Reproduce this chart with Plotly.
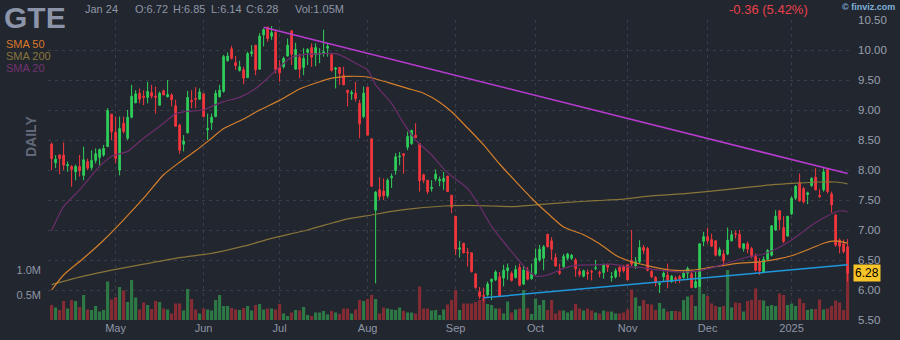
import plotly.graph_objects as go
import pandas as pd

# ---------------- data ----------------
holidays = ["2024-05-27", "2024-06-19", "2024-07-04", "2024-09-02", "2024-11-28",
            "2024-12-25", "2025-01-01", "2025-01-09", "2025-01-20"]

open_ = [
    8.43, 8.12, 8.25, 8.25, 8.07, 8.06, 7.97, 8.06, 7.91, 8.14,
    8.04, 8.16, 8.21, 8.25, 8.39, 8.93, 8.63, 8.00, 8.78, 8.53,
    8.88, 9.12, 9.28, 9.23, 9.21, 9.29, 9.23, 9.08, 9.32, 9.22,
    9.25, 9.07, 8.75, 8.43, 8.62, 9.16, 9.19, 9.18, 9.27, 8.67,
    8.79, 8.89, 9.22, 9.31, 9.82, 10.02, 9.79, 9.66, 9.67, 9.54,
    9.94, 10.08, 9.68, 10.25, 10.38, 10.23, 10.29, 9.71, 9.72, 9.90,
    10.32, 9.68, 9.88, 9.71, 9.96, 10.04, 9.92, 9.93, 9.94, 10.03,
    9.92, 9.68, 9.71, 9.58, 9.33, 9.27, 9.28, 9.11, 8.89, 9.38,
    8.52, 7.33, 7.67, 7.65, 7.57, 7.87, 7.99, 8.22, 8.27, 8.38,
    8.44, 8.58, 8.44, 7.92, 7.83, 7.69, 7.85, 7.82, 7.81, 7.90,
    7.58, 7.23, 6.68, 6.78, 6.63, 6.62, 6.27, 5.97, 5.91, 5.92,
    6.14, 6.17, 6.22, 6.20, 6.32, 6.28, 6.21, 6.38, 6.10, 6.33,
    6.19, 6.27, 6.50, 6.53, 6.93, 6.82, 6.54, 6.31, 6.39, 6.53,
    6.53, 6.50, 6.31, 6.23, 6.29, 6.31, 6.36, 6.29, 6.29, 6.42,
    6.21, 6.22, 6.38, 6.39, 6.42, 6.49, 6.40, 6.47, 6.71, 6.69,
    6.31, 6.21, 6.09, 6.22, 6.25, 6.14, 6.20, 6.22, 6.21, 6.28,
    6.27, 6.04, 6.06, 6.81, 6.89, 6.84, 6.82, 6.58, 6.60, 6.60,
    6.82, 6.94, 6.93, 6.69, 6.77, 6.69, 6.56, 6.46, 6.29, 6.51,
    6.58, 7.00, 7.32, 7.04, 6.90, 7.27, 7.53, 7.79, 7.69, 7.59,
    7.74, 7.88, 7.58, 7.67, 8.01, 7.60, 7.25, 6.83, 6.77, 6.72,
]
high = [
    8.46, 8.25, 8.26, 8.46, 8.14, 8.08, 8.09, 8.25, 8.39, 8.19,
    8.33, 8.36, 8.36, 8.42, 9.03, 8.93, 8.89, 8.89, 8.89, 9.00,
    9.42, 9.33, 9.36, 9.33, 9.47, 9.42, 9.39, 9.31, 9.34, 9.50,
    9.28, 9.17, 8.77, 8.58, 9.32, 9.33, 9.38, 9.36, 9.28, 8.94,
    8.94, 9.33, 9.42, 9.92, 9.96, 10.07, 9.90, 9.82, 9.72, 9.97,
    10.08, 10.08, 10.28, 10.36, 10.39, 10.40, 10.33, 9.83, 9.89, 10.19,
    10.33, 10.12, 9.94, 10.03, 10.03, 10.11, 10.11, 10.03, 10.34, 10.11,
    9.94, 9.72, 9.71, 9.72, 9.33, 9.33, 9.47, 9.17, 9.39, 9.39,
    8.52, 7.65, 7.88, 7.86, 7.86, 7.94, 8.28, 8.30, 8.28, 8.64,
    8.67, 8.78, 8.44, 7.94, 7.83, 7.83, 8.01, 7.89, 7.97, 7.90,
    7.58, 7.23, 6.82, 6.78, 6.70, 6.62, 6.27, 6.05, 6.04, 6.14,
    6.19, 6.33, 6.30, 6.42, 6.44, 6.31, 6.41, 6.44, 6.40, 6.38,
    6.44, 6.69, 6.75, 6.75, 6.93, 6.88, 6.61, 6.44, 6.60, 6.62,
    6.60, 6.53, 6.36, 6.34, 6.34, 6.34, 6.50, 6.32, 6.44, 6.44,
    6.30, 6.36, 6.39, 6.42, 6.42, 7.00, 6.55, 6.83, 6.75, 6.72,
    6.34, 6.23, 6.13, 6.31, 6.44, 6.25, 6.23, 6.25, 6.33, 6.39,
    6.31, 6.31, 6.78, 6.97, 7.04, 6.94, 6.83, 6.71, 6.67, 7.04,
    6.99, 6.99, 7.00, 6.78, 6.81, 6.72, 6.61, 6.53, 6.56, 6.68,
    7.08, 7.33, 7.33, 7.23, 7.23, 7.56, 7.75, 7.94, 7.72, 7.64,
    7.88, 8.03, 7.68, 8.03, 8.03, 7.64, 7.27, 6.86, 6.84, 6.85,
]
low = [
    8.00, 8.03, 7.93, 8.00, 7.97, 7.72, 7.83, 7.89, 7.83, 8.00,
    8.00, 8.11, 8.08, 8.22, 8.39, 8.50, 8.11, 7.91, 8.61, 8.50,
    8.86, 9.11, 9.11, 9.08, 9.11, 9.19, 8.94, 9.08, 9.25, 9.21,
    9.06, 8.72, 8.27, 8.31, 8.61, 9.03, 9.03, 9.17, 8.88, 8.50,
    8.67, 8.88, 9.21, 9.29, 9.81, 9.84, 9.67, 9.64, 9.43, 9.53,
    9.89, 9.58, 9.67, 10.06, 10.14, 10.17, 9.61, 9.47, 9.69, 9.89,
    9.75, 9.67, 9.53, 9.58, 9.75, 9.72, 9.73, 9.78, 9.89, 9.89,
    9.64, 9.36, 9.42, 9.42, 9.06, 9.17, 9.14, 8.53, 8.86, 8.58,
    7.72, 6.11, 7.50, 7.50, 7.53, 7.70, 7.92, 8.08, 7.94, 8.33,
    8.42, 8.54, 7.64, 7.78, 7.60, 7.64, 7.81, 7.73, 7.67, 7.64,
    7.28, 6.58, 6.54, 6.61, 6.39, 6.29, 6.02, 5.85, 5.81, 5.89,
    5.83, 6.15, 5.89, 6.06, 6.17, 6.14, 6.19, 6.06, 6.08, 6.16,
    6.17, 6.25, 6.47, 6.33, 6.71, 6.50, 6.39, 6.25, 6.36, 6.50,
    6.50, 6.22, 6.22, 6.21, 6.17, 6.16, 6.33, 6.21, 6.19, 6.30,
    6.14, 6.19, 6.22, 6.29, 6.16, 6.40, 6.35, 6.44, 6.60, 6.31,
    6.20, 6.06, 5.95, 6.14, 6.03, 6.12, 6.11, 6.11, 6.19, 6.19,
    6.03, 6.03, 6.05, 6.73, 6.77, 6.72, 6.56, 6.56, 6.39, 6.58,
    6.81, 6.86, 6.69, 6.64, 6.61, 6.53, 6.31, 6.25, 6.28, 6.50,
    6.56, 6.99, 7.00, 6.78, 6.89, 7.25, 7.50, 7.47, 7.44, 7.43,
    7.72, 7.66, 7.53, 7.64, 7.61, 7.29, 6.72, 6.61, 6.61, 6.14,
]
close = [
    8.19, 8.18, 8.19, 8.08, 8.09, 8.01, 8.06, 7.99, 8.17, 8.03,
    8.16, 8.27, 8.34, 8.36, 8.99, 8.64, 8.19, 8.69, 8.64, 8.88,
    9.23, 9.27, 9.18, 9.21, 9.31, 9.23, 9.21, 9.28, 9.25, 9.26,
    9.17, 8.73, 8.33, 8.48, 9.21, 9.14, 9.18, 9.30, 8.89, 8.69,
    8.88, 9.28, 9.33, 9.89, 9.90, 9.86, 9.74, 9.72, 9.53, 9.94,
    9.97, 9.67, 10.23, 10.34, 10.19, 10.29, 9.67, 9.62, 9.86, 10.08,
    9.93, 10.01, 9.68, 9.86, 10.01, 9.88, 10.04, 9.95, 9.97, 10.06,
    9.66, 9.70, 9.61, 9.42, 9.29, 9.29, 9.19, 8.77, 9.28, 8.58,
    7.73, 7.63, 7.56, 7.57, 7.83, 7.89, 8.22, 8.23, 8.24, 8.56,
    8.66, 8.54, 7.82, 7.83, 7.64, 7.71, 7.93, 7.84, 7.86, 7.64,
    7.38, 6.68, 6.70, 6.62, 6.62, 6.31, 6.04, 5.89, 5.89, 6.10,
    6.18, 6.30, 5.90, 6.33, 6.37, 6.16, 6.34, 6.08, 6.33, 6.18,
    6.27, 6.53, 6.68, 6.72, 6.72, 6.68, 6.40, 6.28, 6.56, 6.60,
    6.58, 6.35, 6.26, 6.32, 6.27, 6.30, 6.37, 6.28, 6.42, 6.38,
    6.22, 6.32, 6.31, 6.32, 6.17, 6.43, 6.47, 6.71, 6.66, 6.33,
    6.22, 6.12, 6.11, 6.28, 6.16, 6.23, 6.18, 6.19, 6.28, 6.36,
    6.04, 6.14, 6.77, 6.89, 6.82, 6.73, 6.58, 6.67, 6.49, 6.83,
    6.92, 6.93, 6.71, 6.77, 6.68, 6.56, 6.33, 6.32, 6.51, 6.66,
    7.07, 7.23, 7.17, 6.81, 7.23, 7.53, 7.73, 7.49, 7.47, 7.62,
    7.86, 7.67, 7.56, 7.97, 7.64, 7.42, 6.75, 6.73, 6.64, 6.28,
]
volume_m = [
    0.30, 0.25, 0.20, 0.38, 0.23, 0.40, 0.38, 0.26, 0.50, 0.21,
    0.20, 0.28, 0.17, 0.20, 0.77, 0.41, 0.46, 0.66, 0.59, 0.36,
    0.80, 0.45, 0.21, 0.35, 0.30, 0.22, 0.38, 0.36, 0.23, 0.21,
    0.13, 0.33, 0.33, 0.19, 0.62, 0.42, 0.21, 0.13, 0.23, 0.21,
    0.19, 0.40, 0.50, 0.28, 0.28, 0.24, 0.21, 0.20, 0.24, 0.28,
    0.19, 0.30, 0.32, 0.21, 0.23, 0.23, 0.21, 0.32, 0.13, 0.08,
    0.15, 0.20, 0.19, 0.26, 0.10, 0.08, 0.15, 0.15, 0.18, 0.11,
    0.18, 0.15, 0.12, 0.23, 0.23, 0.13, 0.21, 0.40, 0.38, 0.42,
    0.50, 0.42, 0.13, 0.25, 0.23, 0.21, 0.20, 0.25, 0.18, 0.15,
    0.15, 0.13, 0.67, 0.23, 0.23, 0.19, 0.20, 0.10, 0.21, 0.31,
    0.40, 0.60, 0.20, 0.33, 0.33, 0.33, 0.36, 0.40, 0.44, 0.32,
    0.30, 0.23, 0.23, 0.13, 0.37, 0.15, 0.21, 0.23, 0.60, 0.23,
    0.12, 0.43, 0.30, 0.40, 0.20, 0.40, 0.13, 0.19, 0.19, 0.15,
    0.19, 0.32, 0.23, 0.19, 0.23, 0.19, 0.15, 0.13, 0.19, 0.17,
    0.17, 0.13, 0.13, 0.15, 0.21, 0.61, 0.45, 0.28, 0.40, 0.32,
    0.31, 0.20, 0.34, 0.23, 0.17, 0.18, 0.18, 0.17, 0.40, 0.47,
    0.50, 0.28, 1.00, 0.52, 0.48, 0.33, 0.28, 0.26, 0.28, 1.00,
    0.25, 0.35, 0.34, 0.17, 0.38, 0.40, 0.63, 0.40, 0.39, 0.28,
    0.30, 0.28, 0.53, 0.50, 0.30, 0.33, 0.28, 0.43, 0.34, 0.20,
    0.22, 0.22, 0.41, 0.21, 0.23, 0.28, 0.39, 0.35, 0.20, 1.05,
]

# moving averages (trading-day index, price)
sma20_x = [0, 3, 7, 12, 15, 19, 23, 28, 31, 33, 38, 40, 43, 47, 51, 54, 57, 60, 64, 68,
           71, 73, 76, 79, 81, 85, 88, 91, 95, 98, 100, 104, 107, 110, 113, 116, 119, 121, 124, 128,
           131, 136, 140, 144, 148, 152, 157, 161, 165, 169, 174, 178, 181, 184, 187, 190, 193, 196, 198, 199]
sma20_y = [6.99, 7.39, 7.67, 8.06, 8.23, 8.31, 8.53, 8.78, 8.94, 8.97, 9.00, 9.06, 9.14, 9.21, 9.36, 9.53, 9.72, 9.88, 9.93, 9.94,
           9.94, 9.89, 9.78, 9.67, 9.42, 9.11, 8.78, 8.50, 8.25, 8.02, 7.90, 7.69, 7.40, 7.06, 6.80, 6.56, 6.33, 6.23, 6.25, 6.36,
           6.41, 6.42, 6.43, 6.39, 6.37, 6.33, 6.30, 6.31, 6.37, 6.45, 6.55, 6.60, 6.68, 6.79, 6.93, 7.08, 7.20, 7.30, 7.32, 7.30]
sma50_x = [0, 3, 8, 13, 18, 23, 28, 32, 36, 40, 43, 48, 52, 57, 62, 67, 70, 74, 79, 84,
           89, 93, 97, 100, 104, 108, 112, 116, 120, 124, 128, 133, 137, 141, 145, 150, 155, 160, 165, 171,
           177, 181, 185, 189, 193, 196, 199]
sma50_y = [6.00, 6.25, 6.53, 6.83, 7.17, 7.53, 7.92, 8.13, 8.32, 8.53, 8.69, 8.85, 9.00, 9.16, 9.35, 9.47, 9.53, 9.56, 9.55, 9.46,
           9.36, 9.28, 9.13, 8.97, 8.70, 8.42, 8.10, 7.81, 7.53, 7.28, 7.05, 6.92, 6.77, 6.58, 6.47, 6.39, 6.33, 6.33, 6.38, 6.44,
           6.47, 6.51, 6.57, 6.67, 6.78, 6.82, 6.78]
sma200_x = [0, 8, 15, 23, 32, 40, 48, 55, 64, 73, 80, 85, 91, 98, 104, 110, 115, 121, 129, 136,
            142, 150, 159, 171, 181, 186, 192, 196, 199]
sma200_y = [6.09, 6.23, 6.33, 6.43, 6.54, 6.61, 6.73, 6.86, 7.00, 7.17, 7.25, 7.31, 7.36, 7.40, 7.41, 7.40, 7.39, 7.42, 7.46, 7.49,
            7.51, 7.57, 7.61, 7.69, 7.76, 7.78, 7.80, 7.80, 7.77]

# trendlines drawn on the chart (trading-day index, price)
resist_x = [53, 199]
resist_y = [10.38, 7.94]
support_x = [108, 199]
support_y = [5.87, 6.42]

ticker = "GTE"
last_date = "Jan 24"
header_vals = ["O:6.72", "H:6.85", "L:6.14", "C:6.28"]
vol_text = "Vol:1.05M"
change_text = "-0.36 (5.42%)"
last_price = 6.28

price_ticks = [5.5, 6.0, 6.5, 7.0, 7.5, 8.0, 8.5, 9.0, 9.5, 10.0, 10.5]
vol_ticks = [0.5, 1.0]
vol_tick_text = ["0.5M", "1.0M"]

# ---------------- layout constants ----------------
W, H = 900, 340
L, R, T, B = 48, 50, 20, 20
BG = "#22262f"
GRID = "#3a3e4a"
TXT = "#8f96a6"
UP, DN = "#2fcf5b", "#f5373d"
VUP, VDN = "#2d7a46", "#852b33"
FONT = "Liberation Sans, Arial, sans-serif"

dates = pd.bdate_range("2024-04-09", "2025-01-24")
dates = dates[~dates.isin(pd.to_datetime(holidays))]
assert len(dates) == len(close)
x = list(range(len(dates)))
month_idx = [i for i in range(1, len(dates)) if dates[i].month != dates[i - 1].month]
month_txt = [str(dates[i].year) if dates[i].month == 1 else dates[i].strftime("%b") for i in month_idx]


def px_x(px):
    return (px - L) / (W - L - R)


def px_y(py):
    return (H - B - py) / (H - T - B)


fig = go.Figure()

vol_colors = [VUP if c >= o else VDN for o, c in zip(open_, close)]
fig.add_trace(go.Bar(x=x, y=volume_m, yaxis="y", width=0.78,
                     marker=dict(color=vol_colors, line=dict(width=0)),
                     hoverinfo="skip", showlegend=False))

for sx, sy, col in [(sma200_x, sma200_y, "#87753a"),
                    (sma50_x, sma50_y, "#d47f2c"),
                    (sma20_x, sma20_y, "#6c2e6c")]:
    fig.add_trace(go.Scatter(x=sx, y=sy, yaxis="y2", mode="lines",
                             line=dict(color=col, width=1.2, shape="spline", smoothing=0.6),
                             hoverinfo="skip", showlegend=False))

fig.add_trace(go.Candlestick(
    x=x, open=open_, high=high, low=low, close=close, yaxis="y2",
    increasing=dict(line=dict(color=UP, width=1), fillcolor=UP),
    decreasing=dict(line=dict(color=DN, width=1), fillcolor=DN),
    whiskerwidth=0, hoverinfo="skip", showlegend=False))

fig.add_trace(go.Scatter(x=resist_x, y=resist_y, yaxis="y2", mode="lines",
                         line=dict(color="#b83bd0", width=1.5), hoverinfo="skip", showlegend=False))
fig.add_trace(go.Scatter(x=support_x, y=support_y, yaxis="y2", mode="lines",
                         line=dict(color="#1f98dc", width=1.5), hoverinfo="skip", showlegend=False))

ann = []


def text(px, py, s, size, color, bold=False, anchor="left", yanchor="middle", **kw):
    ann.append(dict(xref="paper", yref="paper", x=px_x(px), y=px_y(py),
                    text=f"<b>{s}</b>" if bold else s, showarrow=False,
                    xanchor=anchor, yanchor=yanchor,
                    font=dict(family=FONT, size=size, color=color), **kw))


text(3, 0, ticker, 30, "#8b94a9", bold=True, yanchor="top", borderpad=0)
text(83, 9, last_date, 11, TXT)
for px, s in zip([133, 171, 209, 244], header_vals):
    text(px, 9, s, 11, TXT)
text(293, 9, vol_text, 11, TXT)
text(810, 10, change_text, 13, "#e9414b", anchor="right")
text(897, 7, "© finviz.com", 9, "#7fb1da", bold=True, anchor="right")
text(4, 44, "SMA 50", 11, "#d9792a")
text(4, 56, "SMA 200", 11, "#87753a")
text(4, 68, "SMA 20", 11, "#74336f")
text(31, 137, "DAILY", 14, "#626979", bold=True, anchor="center", textangle=-90)

ann.append(dict(xref="paper", yref="y2", x=px_x(853), y=last_price, text=f"{last_price:.2f}",
                showarrow=False, xanchor="left", yanchor="middle", bgcolor="#f7c42a",
                borderpad=1, font=dict(family=FONT, size=12, color="#000000")))

fig.update_layout(
    width=W, height=H, margin=dict(l=L, r=R, t=T, b=B, autoexpand=False),
    paper_bgcolor=BG, plot_bgcolor=BG, showlegend=False, boxgap=0.42,
    hovermode=False, annotations=ann,
    font=dict(family=FONT, color=TXT, size=11),
    xaxis=dict(range=[-0.9, 199.6], tickvals=month_idx, ticktext=month_txt,
               showgrid=True, gridcolor=GRID, griddash="3px,4px", gridwidth=1,
               zeroline=False, showline=False, ticks="", automargin=False,
               tickfont=dict(family=FONT, size=11, color=TXT),
               rangeslider=dict(visible=False), fixedrange=True),
    yaxis=dict(range=[0, 6], side="left", tickvals=vol_ticks, ticktext=vol_tick_text,
               showgrid=False, zeroline=False, showline=False, ticks="", automargin=False,
               ticklabelstandoff=6, tickfont=dict(family=FONT, size=11, color=TXT)),
    yaxis2=dict(range=[5.5, 10.5], side="right", overlaying="y", tickvals=price_ticks,
                tickformat=".2f", showgrid=True, gridcolor=GRID, griddash="3px,4px",
                zeroline=False, showline=False, ticks="", ticklabelstandoff=7, automargin=False,
                tickfont=dict(family=FONT, size=11.5, color="#98a0ae")),
)

fig.write_html("out.html")
